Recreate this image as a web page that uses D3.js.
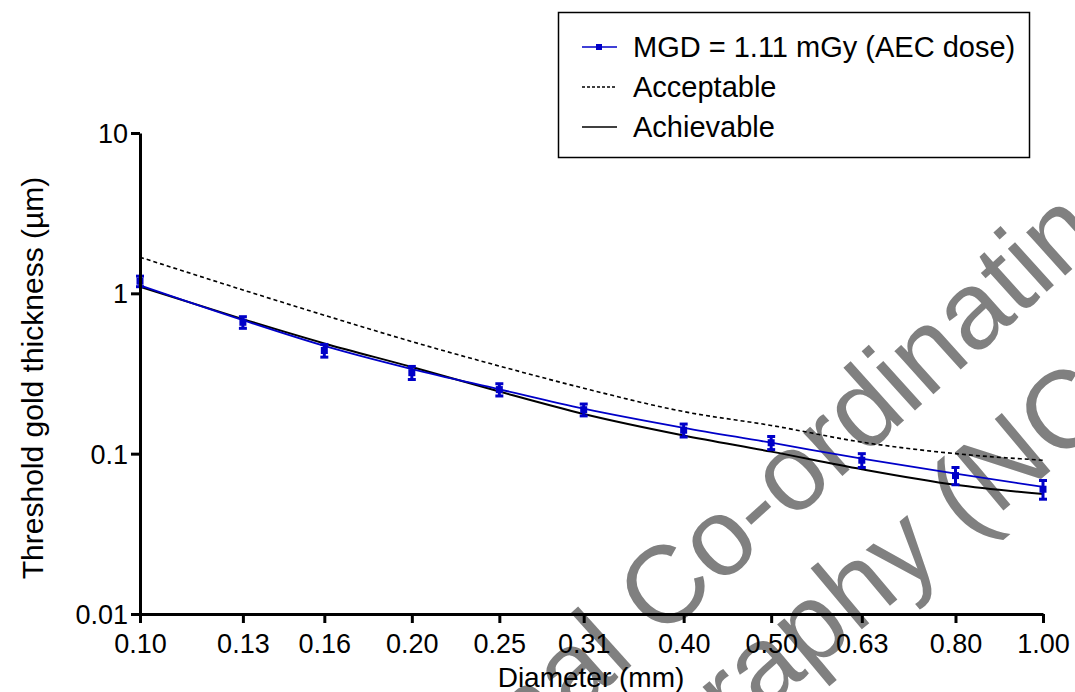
<!DOCTYPE html>
<html>
<head>
<meta charset="utf-8">
<script src="https://cdn.jsdelivr.net/npm/d3@7"></script>
<style>
  body { margin: 0; background: #fff; }
  text { font-family: "Liberation Sans", Arial, sans-serif; }
</style>
</head>
<body>
<script>
const w = 1075;
const h = 692;

// diameters (mm) and tick labels
const diameters = [0.10, 0.13, 0.16, 0.20, 0.25, 0.31, 0.40, 0.50, 0.63, 0.80, 1.00];
const xTickLabels = ["0.10", "0.13", "0.16", "0.20", "0.25", "0.31", "0.40", "0.50", "0.63", "0.80", "1.00"];
const yTicks = [0.01, 0.1, 1, 10];
const yTickLabels = ["0.01", "0.1", "1", "10"];

// threshold gold thickness (um)
const mgd = [1.19, 0.66, 0.44, 0.32, 0.251, 0.188, 0.140, 0.117, 0.091, 0.073, 0.060];
const mgdErr = [0.09, 0.055, 0.04, 0.03, 0.022, 0.016, 0.013, 0.011, 0.009, 0.009, 0.008];
const mgdFit = [1.12, 0.68, 0.47, 0.337, 0.252, 0.191, 0.145, 0.117, 0.093, 0.075, 0.062];
const acceptable = [1.68, 1.05, 0.73, 0.50, 0.352, 0.256, 0.183, 0.150, 0.118, 0.100, 0.091];
const achievable = [1.10, 0.69, 0.487, 0.347, 0.244, 0.177, 0.130, 0.103, 0.080, 0.064, 0.056];

const seriesNames = ["MGD = 1.11 mGy (AEC dose)", "Acceptable", "Achievable"];
const watermark = ["National Co-ordinating Centre for the Physics of", "Mammography (NCCPM)"];
const watermarkPos = [[337, 931, -42], [383, 1031, -40]];

const blue = "#0000c8";

let svg = d3.select("body").append("svg")
    .attr("width", w)
    .attr("height", h);

let xScale = d3.scaleLog().domain([0.1, 1]).range([140, 1043]);
let yScale = d3.scaleLog().domain([0.01, 10]).range([614, 133]);

// watermark
svg.append("g")
    .attr("fill", "#808080")
    .style("font-size", "110px")
    .selectAll("text")
    .data(watermark)
    .enter()
    .append("text")
    .attr("transform", (d, i) => "translate(" + watermarkPos[i][0] + "," + watermarkPos[i][1] + ") rotate(" + watermarkPos[i][2] + ")")
    .text(d => d);

// curves
let line = d3.line()
    .x((d, i) => xScale(diameters[i]))
    .y(d => yScale(d))
    .curve(d3.curveMonotoneX);

svg.append("path")
    .attr("d", line(acceptable))
    .attr("fill", "none")
    .attr("stroke", "#000")
    .attr("stroke-width", 1.6)
    .attr("stroke-dasharray", "4,3");

svg.append("path")
    .attr("d", line(achievable))
    .attr("fill", "none")
    .attr("stroke", "#000")
    .attr("stroke-width", 2);

svg.append("path")
    .attr("d", line(mgdFit))
    .attr("fill", "none")
    .attr("stroke", blue)
    .attr("stroke-width", 1.8);

// error bars
let eb = svg.selectAll(".eb")
    .data(mgd)
    .enter()
    .append("g")
    .attr("class", "eb")
    .attr("stroke", blue)
    .attr("stroke-width", 3);
eb.append("line")
    .attr("x1", (d, i) => xScale(diameters[i]))
    .attr("x2", (d, i) => xScale(diameters[i]))
    .attr("y1", (d, i) => yScale(d + mgdErr[i]))
    .attr("y2", (d, i) => yScale(d - mgdErr[i]));
eb.append("line")
    .attr("x1", (d, i) => xScale(diameters[i]) - 4)
    .attr("x2", (d, i) => xScale(diameters[i]) + 4)
    .attr("y1", (d, i) => yScale(d + mgdErr[i]))
    .attr("y2", (d, i) => yScale(d + mgdErr[i]));
eb.append("line")
    .attr("x1", (d, i) => xScale(diameters[i]) - 4)
    .attr("x2", (d, i) => xScale(diameters[i]) + 4)
    .attr("y1", (d, i) => yScale(d - mgdErr[i]))
    .attr("y2", (d, i) => yScale(d - mgdErr[i]));

svg.selectAll(".pt")
    .data(mgd)
    .enter()
    .append("rect")
    .attr("class", "pt")
    .attr("x", (d, i) => xScale(diameters[i]) - 3.5)
    .attr("y", d => yScale(d) - 3.5)
    .attr("width", 7)
    .attr("height", 7)
    .attr("fill", blue);

// axes
let xAxis = d3.axisBottom(xScale)
    .tickValues(diameters)
    .tickFormat((d, i) => xTickLabels[i])
    .tickSize(9)
    .tickSizeOuter(0)
    .tickPadding(11);
let gx = svg.append("g")
    .attr("transform", "translate(0,614)")
    .call(xAxis);

let yAxis = d3.axisLeft(yScale)
    .tickValues(yTicks)
    .tickFormat((d, i) => yTickLabels[i])
    .tickSize(9)
    .tickSizeOuter(0)
    .tickPadding(3);
let gy = svg.append("g")
    .attr("transform", "translate(140,0)")
    .call(yAxis);

[gx, gy].forEach(g => {
    g.select(".domain").attr("stroke-width", 3).attr("stroke", "#000");
    g.selectAll(".tick line").attr("stroke-width", 3).attr("stroke", "#000");
    g.selectAll(".tick text")
        .attr("fill", "#000")
        .style("font-size", "27px")
        .style("font-family", "'Liberation Sans', Arial, sans-serif");
});
gy.selectAll(".tick text").attr("dy", "0.35em");

// axis titles
svg.append("text")
    .attr("x", 591)
    .attr("y", 687)
    .style("text-anchor", "middle")
    .style("font-size", "28px")
    .text("Diameter (mm)");

svg.append("text")
    .attr("transform", "translate(43,378) rotate(-90)")
    .style("text-anchor", "middle")
    .style("font-size", "30px")
    .text("Threshold gold thickness (\u00b5m)");

// legend
let legend = svg.append("g");
legend.append("rect")
    .attr("x", 558.5)
    .attr("y", 12.5)
    .attr("width", 471)
    .attr("height", 145)
    .attr("fill", "#fff")
    .attr("stroke", "#000")
    .attr("stroke-width", 1.5);

let rows = legend.selectAll(".row")
    .data(seriesNames)
    .enter()
    .append("g")
    .attr("class", "row")
    .attr("transform", (d, i) => "translate(0," + (47 + i * 40) + ")");

rows.append("line")
    .attr("x1", 582)
    .attr("x2", 617)
    .attr("y1", 0)
    .attr("y2", 0)
    .attr("stroke", (d, i) => i === 0 ? blue : "#000")
    .attr("stroke-width", 1.5)
    .attr("stroke-dasharray", (d, i) => i === 1 ? "3,2" : null);

legend.append("rect")
    .attr("x", 596)
    .attr("y", 44)
    .attr("width", 6)
    .attr("height", 6)
    .attr("fill", blue);

rows.append("text")
    .attr("x", 633)
    .attr("y", 0)
    .attr("dy", "0.35em")
    .style("font-size", "29px")
    .text(d => d);
</script>
</body>
</html>
